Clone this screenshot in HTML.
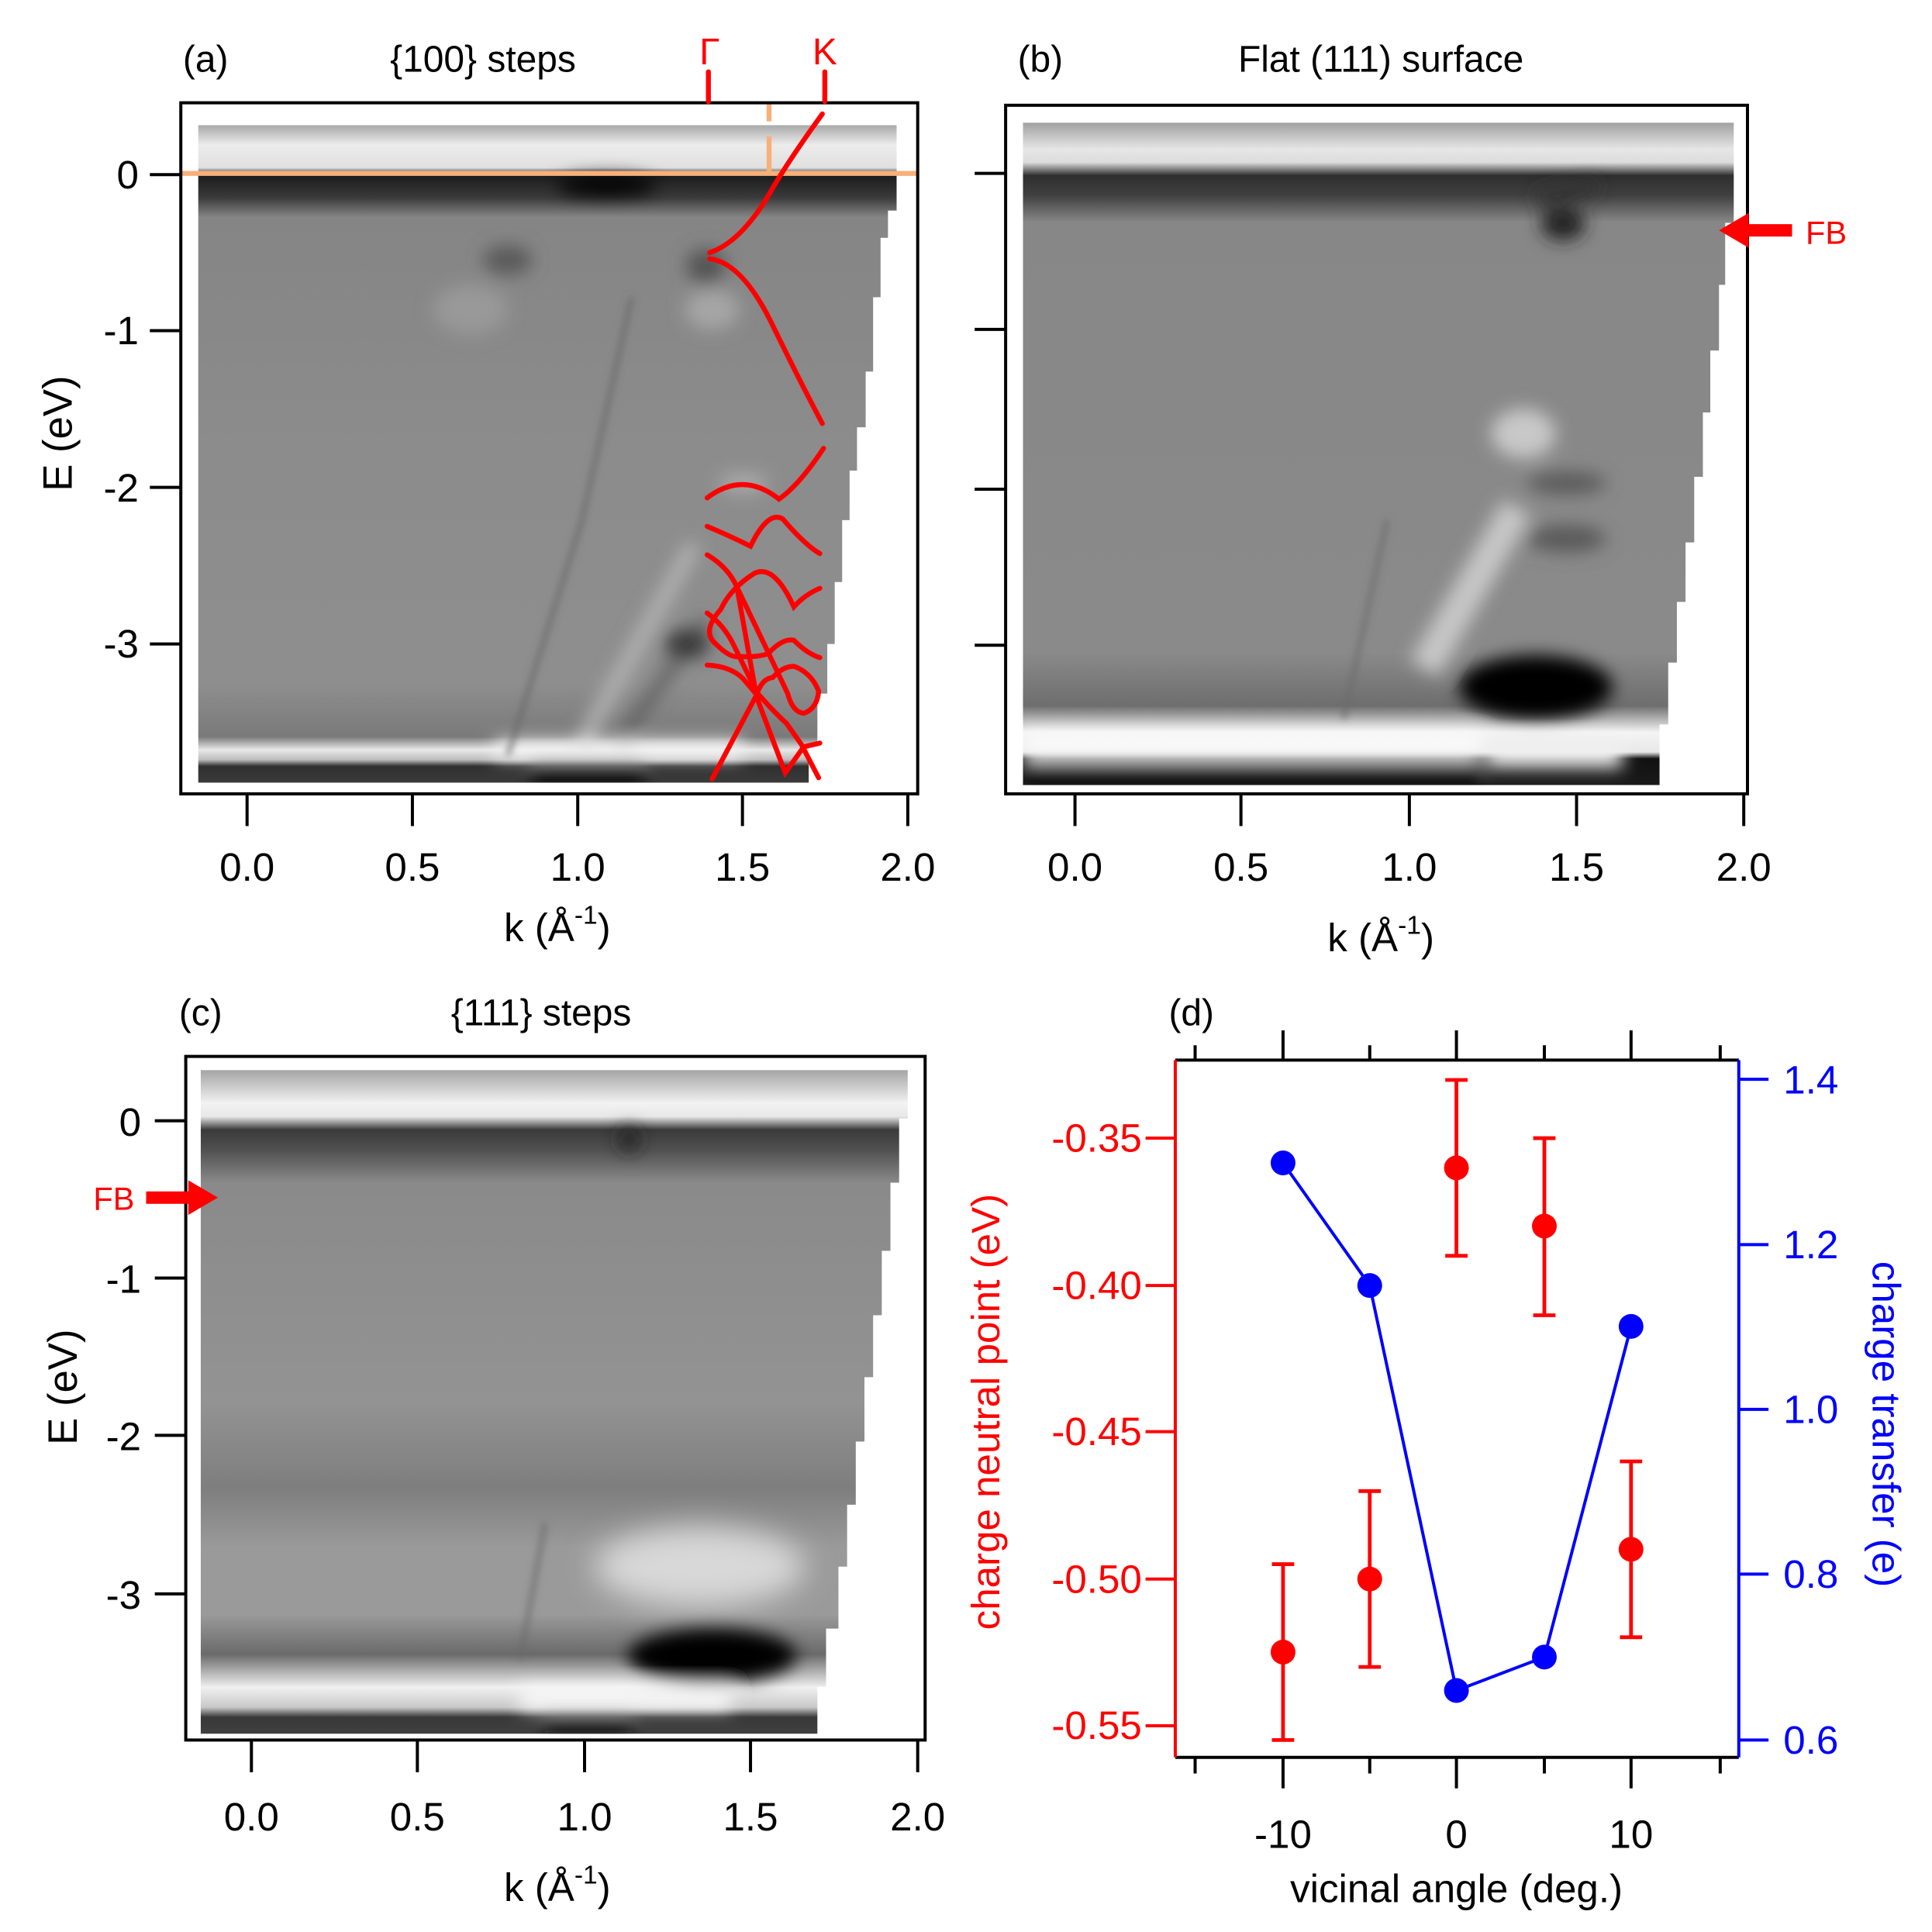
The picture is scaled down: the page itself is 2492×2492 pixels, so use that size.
<!DOCTYPE html>
<html><head><meta charset="utf-8"><style>
html,body{margin:0;padding:0;background:#fff}
svg{display:block}
text{font-family:"Liberation Sans",Arial,sans-serif}
</style></head><body>
<svg width="2492" height="2492" viewBox="0 0 1560 1560" xmlns="http://www.w3.org/2000/svg">
<defs>
<filter id="b3" x="-50%" y="-50%" width="200%" height="200%"><feGaussianBlur stdDeviation="7"/></filter>
<filter id="b2" x="-50%" y="-50%" width="200%" height="200%"><feGaussianBlur stdDeviation="3"/></filter>
<filter id="b6" x="-50%" y="-50%" width="200%" height="200%"><feGaussianBlur stdDeviation="12"/></filter>
<linearGradient id="ga" x1="0" y1="0" x2="0" y2="1">
<stop offset="0" stop-color="#a8a8a8"/><stop offset="0.03" stop-color="#ececec"/><stop offset="0.065" stop-color="#e0e0e0"/>
<stop offset="0.075" stop-color="#1a1a1a"/><stop offset="0.11" stop-color="#3a3a3a"/><stop offset="0.14" stop-color="#858585"/>
<stop offset="0.5" stop-color="#8c8c8c"/><stop offset="0.85" stop-color="#8e8e8e"/><stop offset="0.93" stop-color="#7a7a7a"/>
<stop offset="0.95" stop-color="#e8e8e8"/><stop offset="0.965" stop-color="#bdbdbd"/><stop offset="0.975" stop-color="#303030"/><stop offset="1" stop-color="#3a3a3a"/>
</linearGradient>
<linearGradient id="gb" x1="0" y1="0" x2="0" y2="1">
<stop offset="0" stop-color="#a0a0a0"/><stop offset="0.04" stop-color="#e6e6e6"/><stop offset="0.06" stop-color="#dcdcdc"/>
<stop offset="0.08" stop-color="#2e2e2e"/><stop offset="0.11" stop-color="#404040"/><stop offset="0.15" stop-color="#878787"/>
<stop offset="0.8" stop-color="#8a8a8a"/><stop offset="0.88" stop-color="#6e6e6e"/><stop offset="0.92" stop-color="#f4f4f4"/>
<stop offset="0.95" stop-color="#e8e8e8"/><stop offset="0.96" stop-color="#111"/><stop offset="1" stop-color="#1a1a1a"/>
</linearGradient>
<linearGradient id="gc" x1="0" y1="0" x2="0" y2="1">
<stop offset="0" stop-color="#a4a4a4"/><stop offset="0.05" stop-color="#f2f2f2"/><stop offset="0.07" stop-color="#e8e8e8"/>
<stop offset="0.09" stop-color="#3a3a3a"/><stop offset="0.12" stop-color="#505050"/><stop offset="0.17" stop-color="#8a8a8a"/>
<stop offset="0.5" stop-color="#939393"/><stop offset="0.63" stop-color="#7e7e7e"/><stop offset="0.72" stop-color="#9a9a9a"/>
<stop offset="0.82" stop-color="#9a9a9a"/><stop offset="0.88" stop-color="#6a6a6a"/><stop offset="0.93" stop-color="#f0f0f0"/>
<stop offset="0.96" stop-color="#c8c8c8"/><stop offset="0.975" stop-color="#383838"/><stop offset="1" stop-color="#404040"/>
</linearGradient>
<clipPath id="ca"><polygon points="160,101 724,101 724,170 717,170 717,192 711,192 711,240 705,240 705,300 699,300 699,345 692,345 692,380 686,380 686,420 680,420 680,470 674,470 674,520 668,520 668,560 660,560 660,600 653,600 653,632 160,632"/></clipPath>
<clipPath id="cb"><polygon points="826,99 1400,99 1400,180 1393,180 1393,230 1388,230 1388,283 1381,283 1381,333 1375,333 1375,385 1368,385 1368,438 1361,438 1361,486 1354,486 1354,535 1347,535 1347,585 1340,585 1340,634 826,634"/></clipPath>
<clipPath id="cc"><polygon points="162,864 733,864 733,903 726,903 726,955 719,955 719,1010 712,1010 712,1062 705,1062 705,1112 698,1112 698,1164 691,1164 691,1215 684,1215 684,1265 677,1265 677,1315 667,1315 667,1362 660,1362 660,1400 162,1400"/></clipPath>
</defs>

<!-- Panel a image -->
<g clip-path="url(#ca)">
<rect x="160" y="101" width="564" height="531" fill="url(#ga)"/>
<g filter="url(#b3)">
<ellipse cx="410" cy="210" rx="20" ry="12" fill="#5a5a5a"/>
<ellipse cx="570" cy="215" rx="16" ry="14" fill="#555"/>
<ellipse cx="575" cy="250" rx="22" ry="16" fill="#a6a6a6"/>
<ellipse cx="380" cy="250" rx="30" ry="20" fill="#999"/>
<path d="M470,600 L560,440" stroke="#b4b4b4" stroke-width="12" fill="none"/>
<path d="M500,600 L570,500" stroke="#5a5a5a" stroke-width="8" fill="none"/>
<ellipse cx="555" cy="520" rx="18" ry="12" fill="#3a3a3a"/>
<rect x="400" y="598" width="200" height="14" fill="#f4f4f4"/>
<rect x="430" y="618" width="90" height="14" fill="#000"/>
<ellipse cx="490" cy="150" rx="40" ry="8" fill="#000"/>
<ellipse cx="600" cy="390" rx="20" ry="8" fill="#aaa"/>
</g>
<path d="M410,610 L470,420 L510,240" stroke="#666" stroke-width="3" fill="none" filter="url(#b2)"/>
</g>
<line x1="146" y1="140" x2="741" y2="140" stroke="#f7b07a" stroke-width="4"/>
<line x1="621" y1="84" x2="621" y2="98" stroke="#f7b07a" stroke-width="4"/>
<line x1="621" y1="110" x2="621" y2="140" stroke="#f7b07a" stroke-width="4"/>
<rect x="146" y="83" width="595" height="558" fill="none" stroke="#000" stroke-width="2.5"/>
<g stroke="#000" stroke-width="2.5">
<line x1="121" y1="141" x2="146" y2="141"/><line x1="121" y1="267" x2="146" y2="267"/><line x1="121" y1="393.5" x2="146" y2="393.5"/><line x1="121" y1="520" x2="146" y2="520"/>
<line x1="199.5" y1="641" x2="199.5" y2="667"/><line x1="333" y1="641" x2="333" y2="667"/><line x1="466.5" y1="641" x2="466.5" y2="667"/><line x1="599.5" y1="641" x2="599.5" y2="667"/><line x1="733" y1="641" x2="733" y2="667"/>
</g>
<g fill="none" stroke="#ff0000" stroke-width="4" stroke-linecap="round">
<line x1="572" y1="58" x2="572" y2="82"/><line x1="666" y1="58" x2="666" y2="82"/>
<path d="M664,92 Q640,125 625,150 Q600,195 573,204"/>
<path d="M573,209 Q600,212 625,265 Q648,312 664,342"/>
<path d="M571,402 Q600,380 629,403 Q645,392 665,362"/>
<path d="M571,425 Q590,433 606,441 Q620,412 632,419 Q650,440 662,447"/>
<path d="M571,448 Q588,458 595,474 L611,563 L634,624 L649,603 L662,600"/>
<path d="M662,475 Q650,480 641,490 Q625,455 609,463 Q590,475 582,492 Q566,510 578,520 Q590,532 597,530 Q610,531 620,528 Q632,515 641,517 Q652,528 662,531"/>
<path d="M571,495 Q585,505 593,522 L611,559 Q625,575 635,584 L647,601 L661,628"/>
<path d="M571,537 Q590,538 600,548 Q606,555 611,561 L575,629"/>
<path d="M611,561 Q615,548 624,547 Q632,538 641,538 Q655,543 661,558 Q660,572 649,576 Q640,575 636,560 L618,522 L595,474"/>
</g>
<text x="166" y="58" font-size="30" text-anchor="middle">(a)</text>
<text x="390" y="58" font-size="30" text-anchor="middle">{100} steps</text>
<text x="573" y="52" font-size="30" text-anchor="middle" fill="#ff0000" font-family="Liberation Serif,serif">Γ</text>
<text x="666" y="52" font-size="30" text-anchor="middle" fill="#ff0000" font-family="Liberation Serif,serif">K</text>
<g font-size="32" text-anchor="end">
<text x="112" y="152">0</text><text x="112" y="278">-1</text><text x="112" y="405">-2</text><text x="112" y="531">-3</text>
</g>
<g font-size="32" text-anchor="middle">
<text x="199.5" y="711">0.0</text><text x="333" y="711">0.5</text><text x="466.5" y="711">1.0</text><text x="599.5" y="711">1.5</text><text x="733" y="711">2.0</text>
<text x="450" y="760">k (Å<tspan font-size="21" dy="-14">-1</tspan><tspan dy="14">)</tspan></text>
</g>
<text transform="translate(58,350) rotate(-90)" font-size="33" text-anchor="middle">E (eV)</text>

<!-- Panel b -->
<g clip-path="url(#cb)">
<rect x="826" y="99" width="574" height="535" fill="url(#gb)"/>
<g filter="url(#b3)">
<ellipse cx="1262" cy="180" rx="18" ry="14" fill="#222"/>
<path d="M1240,160 L1290,150" stroke="#333" stroke-width="10"/>
<ellipse cx="1230" cy="350" rx="26" ry="20" fill="#c8c8c8"/>
<ellipse cx="1265" cy="390" rx="32" ry="9" fill="#5a5a5a"/>
<ellipse cx="1265" cy="435" rx="32" ry="11" fill="#5a5a5a"/>
<path d="M1150,540 L1225,410" stroke="#c6c6c6" stroke-width="26" fill="none"/>
<ellipse cx="1240" cy="555" rx="62" ry="26" fill="#000"/>
<rect x="826" y="592" width="370" height="22" fill="#fafafa"/>
<rect x="1200" y="598" width="110" height="22" fill="#f0f0f0"/>
<rect x="826" y="617" width="370" height="17" fill="#0a0a0a"/>
</g>
<path d="M1085,580 L1120,420" stroke="#6a6a6a" stroke-width="3" fill="none" filter="url(#b2)"/>
</g>
<rect x="812" y="85" width="599" height="556" fill="none" stroke="#000" stroke-width="2.5"/>
<g stroke="#000" stroke-width="2.5">
<line x1="787" y1="140" x2="812" y2="140"/><line x1="787" y1="266" x2="812" y2="266"/><line x1="787" y1="395" x2="812" y2="395"/><line x1="787" y1="521" x2="812" y2="521"/>
<line x1="868" y1="641" x2="868" y2="667"/><line x1="1002" y1="641" x2="1002" y2="667"/><line x1="1138" y1="641" x2="1138" y2="667"/><line x1="1273" y1="641" x2="1273" y2="667"/><line x1="1408" y1="641" x2="1408" y2="667"/>
</g>
<polygon points="1388,186 1412,172 1412,181 1447,181 1447,191 1412,191 1412,200" fill="#ff0000"/>
<text x="1458" y="197" font-size="26" fill="#ff0000">FB</text>
<text x="840" y="58" font-size="30" text-anchor="middle">(b)</text>
<text x="1115" y="58" font-size="30" text-anchor="middle">Flat (111) surface</text>
<g font-size="32" text-anchor="middle">
<text x="868" y="711">0.0</text><text x="1002" y="711">0.5</text><text x="1138" y="711">1.0</text><text x="1273" y="711">1.5</text><text x="1408" y="711">2.0</text>
<text x="1115" y="768">k (Å<tspan font-size="21" dy="-14">-1</tspan><tspan dy="14">)</tspan></text>
</g>

<!-- Panel c -->
<g clip-path="url(#cc)">
<rect x="162" y="864" width="571" height="536" fill="url(#gc)"/>
<g filter="url(#b6)">
<ellipse cx="565" cy="1265" rx="85" ry="32" fill="#d8d8d8"/>
</g>
<g filter="url(#b3)">
<ellipse cx="575" cy="1337" rx="68" ry="22" fill="#000"/>
<rect x="420" y="1362" width="170" height="18" fill="#f8f8f8"/>
<rect x="440" y="1388" width="70" height="12" fill="#111"/>
<ellipse cx="508" cy="920" rx="8" ry="10" fill="#222"/>
</g>
<path d="M420,1340 L440,1230" stroke="#6a6a6a" stroke-width="3" filter="url(#b2)"/>
</g>
<rect x="150" y="853" width="597" height="552" fill="none" stroke="#000" stroke-width="2.5"/>
<g stroke="#000" stroke-width="2.5">
<line x1="125" y1="905" x2="150" y2="905"/><line x1="125" y1="1032" x2="150" y2="1032"/><line x1="125" y1="1159" x2="150" y2="1159"/><line x1="125" y1="1287" x2="150" y2="1287"/>
<line x1="203" y1="1405" x2="203" y2="1431"/><line x1="337" y1="1405" x2="337" y2="1431"/><line x1="472" y1="1405" x2="472" y2="1431"/><line x1="606" y1="1405" x2="606" y2="1431"/><line x1="741" y1="1405" x2="741" y2="1431"/>
</g>
<polygon points="176,967 152,953 152,962 118,962 118,972 152,972 152,981" fill="#ff0000"/>
<text x="92" y="977" font-size="26" fill="#ff0000" text-anchor="middle">FB</text>
<text x="162" y="828" font-size="30" text-anchor="middle">(c)</text>
<text x="437" y="828" font-size="30" text-anchor="middle">{111} steps</text>
<g font-size="32" text-anchor="end">
<text x="114" y="917">0</text><text x="114" y="1044">-1</text><text x="114" y="1171">-2</text><text x="114" y="1299">-3</text>
</g>
<g font-size="32" text-anchor="middle">
<text x="203" y="1478">0.0</text><text x="337" y="1478">0.5</text><text x="472" y="1478">1.0</text><text x="606" y="1478">1.5</text><text x="741" y="1478">2.0</text>
<text x="450" y="1535">k (Å<tspan font-size="21" dy="-14">-1</tspan><tspan dy="14">)</tspan></text>
</g>
<text transform="translate(62,1120) rotate(-90)" font-size="33" text-anchor="middle">E (eV)</text>

<!-- Panel d -->
<line x1="949" y1="856" x2="1404" y2="856" stroke="#000" stroke-width="2.5"/>
<line x1="949" y1="1419" x2="1404" y2="1419" stroke="#000" stroke-width="2.5"/>
<line x1="949" y1="856" x2="949" y2="1419" stroke="#ff0000" stroke-width="2.5"/>
<line x1="1404" y1="856" x2="1404" y2="1419" stroke="#0000ff" stroke-width="2.5"/>
<g stroke="#000" stroke-width="2.5">
<line x1="965" y1="844" x2="965" y2="856"/><line x1="1036" y1="832" x2="1036" y2="856"/><line x1="1106" y1="844" x2="1106" y2="856"/><line x1="1176" y1="832" x2="1176" y2="856"/><line x1="1247" y1="844" x2="1247" y2="856"/><line x1="1317" y1="832" x2="1317" y2="856"/><line x1="1389" y1="844" x2="1389" y2="856"/>
<line x1="965" y1="1419" x2="965" y2="1432"/><line x1="1036" y1="1419" x2="1036" y2="1444"/><line x1="1106" y1="1419" x2="1106" y2="1432"/><line x1="1176" y1="1419" x2="1176" y2="1444"/><line x1="1247" y1="1419" x2="1247" y2="1432"/><line x1="1317" y1="1419" x2="1317" y2="1444"/><line x1="1389" y1="1419" x2="1389" y2="1432"/>
</g>
<g stroke="#ff0000" stroke-width="2.5">
<line x1="925" y1="919" x2="949" y2="919"/><line x1="925" y1="1038" x2="949" y2="1038"/><line x1="925" y1="1156" x2="949" y2="1156"/><line x1="925" y1="1275" x2="949" y2="1275"/><line x1="925" y1="1393.5" x2="949" y2="1393.5"/>
</g>
<g stroke="#0000ff" stroke-width="2.5">
<line x1="1404" y1="871.5" x2="1428" y2="871.5"/><line x1="1404" y1="1005" x2="1428" y2="1005"/><line x1="1404" y1="1138" x2="1428" y2="1138"/><line x1="1404" y1="1271" x2="1428" y2="1271"/><line x1="1404" y1="1405" x2="1428" y2="1405"/>
</g>
<g font-size="32" fill="#ff0000" text-anchor="end">
<text x="922" y="930">-0.35</text><text x="922" y="1049">-0.40</text><text x="922" y="1167">-0.45</text><text x="922" y="1286">-0.50</text><text x="922" y="1404">-0.55</text>
</g>
<g font-size="32" fill="#0000ff">
<text x="1440" y="883">1.4</text><text x="1440" y="1016">1.2</text><text x="1440" y="1149">1.0</text><text x="1440" y="1282">0.8</text><text x="1440" y="1416">0.6</text>
</g>
<g font-size="32" text-anchor="middle">
<text x="1036" y="1492">-10</text><text x="1176" y="1492">0</text><text x="1317" y="1492">10</text>
<text x="1176" y="1536">vicinal angle (deg.)</text>
</g>
<text x="962" y="828" font-size="30" text-anchor="middle">(d)</text>
<text transform="translate(807,1140) rotate(-90)" font-size="32" fill="#ff0000" text-anchor="middle">charge neutral point (eV)</text>
<text transform="translate(1512,1150) rotate(90)" font-size="32" fill="#0000ff" text-anchor="middle">charge transfer (e)</text>
<g stroke="#ff0000" stroke-width="3" fill="none">
<path d="M1036,1263 V1405 M1027,1263 H1045 M1027,1405 H1045"/>
<path d="M1106,1204 V1346 M1097,1204 H1115 M1097,1346 H1115"/>
<path d="M1176,872 V1014 M1167,872 H1185 M1167,1014 H1185"/>
<path d="M1247,919 V1062 M1238,919 H1256 M1238,1062 H1256"/>
<path d="M1317,1180 V1322 M1308,1180 H1326 M1308,1322 H1326"/>
</g>
<g fill="#ff0000">
<circle cx="1036" cy="1334" r="10"/><circle cx="1106" cy="1275" r="10"/><circle cx="1176" cy="943" r="10"/><circle cx="1247" cy="990" r="10"/><circle cx="1317" cy="1251" r="10"/>
</g>
<polyline points="1036,939 1106,1038 1176,1365 1247,1338 1317,1071" fill="none" stroke="#0000ff" stroke-width="2.5"/>
<g fill="#0000ff">
<circle cx="1036" cy="939" r="10"/><circle cx="1106" cy="1038" r="10"/><circle cx="1176" cy="1365" r="10"/><circle cx="1247" cy="1338" r="10"/><circle cx="1317" cy="1071" r="10"/>
</g>
</svg>
</body></html>
